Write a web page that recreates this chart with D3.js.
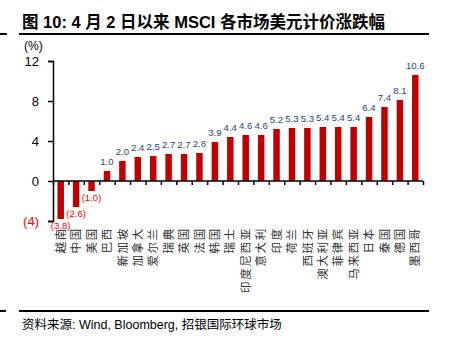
<!DOCTYPE html>
<html><head><meta charset="utf-8">
<script src="https://cdn.jsdelivr.net/npm/d3@7/dist/d3.min.js"></script>
<style>body{margin:0;background:#fff}svg{display:block}</style>
</head><body>
<svg id="c" width="449" height="353"></svg>
<script>
const categories = ["越南","中国","美国","巴西","新加坡","加拿大","爱尔兰","瑞典","英国","法国","韩国","瑞士","印度尼西亚","意大利","印度","荷兰","西班牙","澳大利亚","菲律宾","马来西亚","日本","泰国","德国","墨西哥"];
const values = [-3.8,-2.6,-1.0,1.0,2.0,2.4,2.5,2.7,2.7,2.8,3.9,4.4,4.6,4.6,5.2,5.3,5.3,5.4,5.4,5.4,6.4,7.4,8.1,10.6];
const yTicks = [-4,0,4,8,12];
const title = "图 10: 4 月 2 日以来 MSCI 各市场美元计价涨跌幅";
const source = "资料来源: Wind, Bloomberg, 招银国际环球市场";

const svg = d3.select("#c");
const fmt = v => v < 0 ? "(" + d3.format(".1f")(-v) + ")" : d3.format(".1f")(v);
const fmtTick = v => v < 0 ? "(" + (-v) + ")" : String(v);
const cjk = "'Noto Sans CJK SC', sans-serif";
const latin = "'Liberation Sans', Arial, sans-serif";

// title
svg.append("text").attr("x", 22).attr("y", 28).attr("font-size", 16.5).attr("font-weight", "bold")
  .attr("font-family", latin + "," + cjk).attr("fill", "#000").text(title);
svg.append("rect").attr("x", 19).attr("y", 33).attr("width", 410).attr("height", 2).attr("fill", "#000");
svg.append("rect").attr("x", 0).attr("y", 33).attr("width", 7).attr("height", 2).attr("fill", "#000");

const x = d3.scaleBand().domain(categories).range([53, 423]).paddingInner(0.58).paddingOuter(0.29);
const y = d3.scaleLinear().domain([-4, 12]).range([221, 61]);

// bars
svg.append("g").selectAll("rect").data(values).join("rect")
  .attr("x", (d,i) => x(categories[i]))
  .attr("width", x.bandwidth())
  .attr("y", d => y(Math.max(0,d)))
  .attr("height", d => Math.abs(y(d) - y(0)))
  .attr("fill", "#C00000");

// y axis
const yAxis = d3.axisLeft(y).tickValues(yTicks).tickSize(5).tickFormat(fmtTick);
const ga = svg.append("g").attr("transform", "translate(53,0)").call(yAxis);
ga.select(".domain").attr("stroke", "#000").attr("stroke-width", 1.5);
ga.selectAll(".tick line").attr("stroke", "#000").attr("stroke-width", 1.5);
ga.selectAll(".tick text").attr("font-size", 13).attr("font-family", latin).attr("x", -14)
  .attr("fill", d => d < 0 ? "#FF0000" : "#000");

// x axis at zero
const xb = d3.scaleLinear().domain([0, categories.length]).range([53, 423]);
const gx = svg.append("g").attr("transform", `translate(0,${y(0)})`)
  .call(d3.axisBottom(xb).tickValues(d3.range(0, categories.length+1)).tickSize(4).tickFormat(""));
gx.select(".domain").attr("stroke", "#000").attr("stroke-width", 1.5).attr("d", `M53,0H423`);
gx.selectAll(".tick line").attr("stroke", "#000").attr("stroke-width", 1.5);

// unit
svg.append("text").attr("x", 24).attr("y", 50).attr("font-size", 12).attr("font-family", latin).text("(%)");

// value labels
svg.append("g").selectAll("text").data(values).join("text")
  .attr("x", (d,i) => x(categories[i]) + x.bandwidth()/2)
  .attr("y", d => d < 0 ? y(d) + 10 : y(d) - 6)
  .attr("text-anchor", "middle")
  .attr("font-size", 9.6).attr("font-family", latin)
  .attr("fill", d => d < 0 ? "#FF0000" : "#1F497D")
  .text(fmt);

// category labels (rotated)
svg.append("g").selectAll("text").data(categories).join("text")
  .attr("transform", (d,i) => `translate(${x(d) + x.bandwidth()/2 + 4.2},227) rotate(-90)`)
  .attr("text-anchor", "end")
  .attr("font-size", 11.5).attr("letter-spacing", 1.7).attr("font-family", cjk).attr("fill", "#333")
  .text(d => d);

// bottom rule & source
svg.append("rect").attr("x", 19).attr("y", 310).attr("width", 410).attr("height", 2).attr("fill", "#000");
svg.append("rect").attr("x", 0).attr("y", 310).attr("width", 6).attr("height", 2).attr("fill", "#000");
svg.append("text").attr("x", 22).attr("y", 329).attr("font-size", 12.5)
  .attr("font-family", latin + "," + cjk).attr("fill", "#000").text(source);
</script>
</body></html>
